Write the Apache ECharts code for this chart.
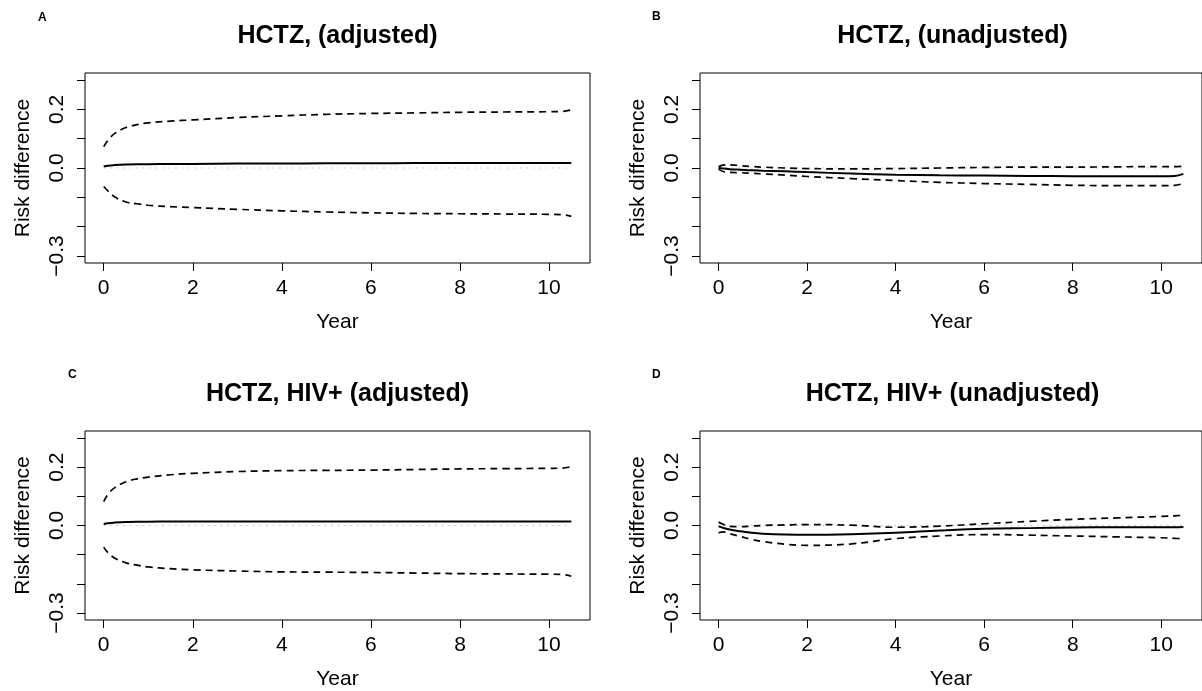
<!DOCTYPE html>
<html>
<head>
<meta charset="utf-8">
<script src="https://cdn.jsdelivr.net/npm/echarts@6/dist/echarts.min.js"></script>
<style>
html,body{margin:0;padding:0;background:#fff;}
#chart{width:1202px;height:691px;}
</style>
</head>
<body>
<div id="chart"></div>
<script>
// ---- data ----
const years = [0, 0.1, 0.25, 0.5, 0.75, 1, 1.5, 2, 3, 4, 5, 6, 7, 8, 9, 10, 10.3, 10.5];

const titles = ["HCTZ, (adjusted)", "HCTZ, (unadjusted)", "HCTZ, HIV+ (adjusted)", "HCTZ, HIV+ (unadjusted)"];
const panelLetters = ["A", "B", "C", "D"];

const xTicks = [0, 2, 4, 6, 8, 10];
const yTicks = [-0.3, -0.2, -0.1, 0.0, 0.1, 0.2, 0.3];
const yLabels = [-0.3, 0.0, 0.2];

// Panel A
const estA   = [0.005, 0.008, 0.010, 0.012, 0.013, 0.013, 0.014, 0.014, 0.015, 0.015, 0.016, 0.016, 0.017, 0.017, 0.017, 0.017, 0.017, 0.017];
const upperA = [0.073, 0.095, 0.118, 0.138, 0.148, 0.154, 0.160, 0.164, 0.172, 0.178, 0.183, 0.186, 0.188, 0.190, 0.191, 0.192, 0.193, 0.198];
const lowerA = [-0.063, -0.079, -0.099, -0.116, -0.122, -0.127, -0.132, -0.135, -0.141, -0.146, -0.150, -0.153, -0.155, -0.156, -0.157, -0.158, -0.159, -0.165];
// Panel B
const estB   = [0.000, -0.002, -0.004, -0.006, -0.008, -0.009, -0.011, -0.014, -0.019, -0.023, -0.025, -0.026, -0.027, -0.028, -0.028, -0.028, -0.027, -0.020];
const upperB = [0.004, 0.010, 0.011, 0.008, 0.005, 0.003, 0.000, -0.002, -0.003, -0.002, 0.000, 0.002, 0.003, 0.003, 0.004, 0.005, 0.005, 0.006];
const lowerB = [-0.004, -0.012, -0.015, -0.016, -0.018, -0.020, -0.024, -0.029, -0.036, -0.043, -0.049, -0.053, -0.056, -0.059, -0.060, -0.060, -0.059, -0.053];
// Panel C
const estC   = [0.005, 0.008, 0.010, 0.012, 0.013, 0.013, 0.014, 0.014, 0.014, 0.014, 0.014, 0.014, 0.014, 0.014, 0.014, 0.014, 0.014, 0.014];
const upperC = [0.082, 0.108, 0.130, 0.150, 0.160, 0.166, 0.174, 0.179, 0.185, 0.188, 0.189, 0.190, 0.192, 0.194, 0.195, 0.196, 0.197, 0.202];
const lowerC = [-0.074, -0.094, -0.112, -0.128, -0.136, -0.142, -0.148, -0.152, -0.156, -0.159, -0.160, -0.161, -0.163, -0.165, -0.166, -0.167, -0.168, -0.174];
// Panel D
const estD   = [-0.003, -0.008, -0.014, -0.020, -0.025, -0.028, -0.031, -0.032, -0.030, -0.025, -0.017, -0.011, -0.009, -0.007, -0.006, -0.006, -0.006, -0.005];
const upperD = [0.012, 0.004, -0.003, -0.004, -0.002, 0.000, 0.002, 0.003, 0.001, -0.006, -0.002, 0.006, 0.014, 0.021, 0.026, 0.031, 0.033, 0.035];
const lowerD = [-0.025, -0.022, -0.028, -0.038, -0.048, -0.055, -0.064, -0.068, -0.063, -0.045, -0.036, -0.031, -0.033, -0.036, -0.039, -0.042, -0.044, -0.046];

const panels = [
  {est: estA, upper: upperA, lower: lowerA},
  {est: estB, upper: upperB, lower: lowerB},
  {est: estC, upper: upperC, lower: lowerC},
  {est: estD, upper: upperD, lower: lowerD}
];

// ---- layout ----
const FONT = "'Liberation Sans', Arial, Helvetica, sans-serif";
const grids = [
  {left: 85,  top: 73,  width: 505, height: 190},
  {left: 700, top: 73,  width: 505, height: 190},
  {left: 85,  top: 431, width: 505, height: 190},
  {left: 700, top: 431, width: 505, height: 190}
];
const letterPos = [[38, 12], [652, 11], [68, 369], [652, 369]];

function pairs(xs, ys) { return xs.map((x, i) => [x, ys[i]]); }
function fmtY(v) {
  const s = Math.abs(v).toFixed(1);
  return (v < -1e-9 ? '\u2212' : '') + s;
}

const option = {
  animation: false,
  backgroundColor: '#fff',
  title: grids.map((g, i) => ({
    text: titles[i],
    left: g.left + g.width / 2,
    top: g.top - 49,
    textAlign: 'center',
    padding: 0,
    textStyle: {fontFamily: FONT, fontWeight: 'bold', fontSize: 25, color: '#000'}
  })),
  graphic: panelLetters.map((t, i) => ({
    type: 'text', left: letterPos[i][0], top: letterPos[i][1],
    style: {text: t, font: 'bold 12px ' + FONT, fill: '#000'}
  })),
  grid: grids.map(g => Object.assign({show: true, borderColor: '#000', borderWidth: 1, backgroundColor: 'transparent'}, g)),
  xAxis: grids.map((g, i) => ({
    type: 'value', gridIndex: i, min: -0.42, max: 10.92,
    name: 'Year', nameLocation: 'middle', nameGap: 49,
    nameTextStyle: {fontFamily: FONT, fontSize: 21, color: '#000'},
    axisLine: {show: false, onZero: false},
    splitLine: {show: false},
    axisTick: {show: true, length: 8, customValues: xTicks, lineStyle: {color: '#000', width: 1}},
    axisLabel: {customValues: xTicks, margin: 15, fontFamily: FONT, fontSize: 21, color: '#000'}
  })),
  yAxis: grids.map((g, i) => ({
    type: 'value', gridIndex: i, min: -0.324, max: 0.324,
    name: 'Risk difference', nameLocation: 'middle', nameGap: 51, nameRotate: 90,
    nameTextStyle: {fontFamily: FONT, fontSize: 21, color: '#000'},
    axisLine: {show: false, onZero: false},
    splitLine: {show: false},
    axisTick: {show: true, length: 8, customValues: yTicks, lineStyle: {color: '#000', width: 1}},
    axisLabel: {customValues: yLabels, rotate: 90, margin: 17, fontFamily: FONT, fontSize: 21, color: '#000', formatter: fmtY}
  })),
  series: []
};

panels.forEach((p, i) => {
  option.series.push({
    type: 'line', xAxisIndex: i, yAxisIndex: i, showSymbol: false, silent: true,
    data: [[years[0], 0], [years[years.length - 1], 0]],
    lineStyle: {color: '#bdbdbd', width: 1, type: [1.5, 5]}
  });
  option.series.push({
    type: 'line', xAxisIndex: i, yAxisIndex: i, showSymbol: false, silent: true, smooth: 0.4,
    data: pairs(years, p.upper),
    lineStyle: {color: '#000', width: 1.7, type: [7, 5]}
  });
  option.series.push({
    type: 'line', xAxisIndex: i, yAxisIndex: i, showSymbol: false, silent: true, smooth: 0.4,
    data: pairs(years, p.lower),
    lineStyle: {color: '#000', width: 1.7, type: [7, 5]}
  });
  option.series.push({
    type: 'line', xAxisIndex: i, yAxisIndex: i, showSymbol: false, silent: true, smooth: 0.4,
    data: pairs(years, p.est),
    lineStyle: {color: '#000', width: 2}
  });
});

const chart = echarts.init(document.getElementById('chart'), null, {renderer: 'canvas'});
chart.setOption(option);
</script>
</body>
</html>
